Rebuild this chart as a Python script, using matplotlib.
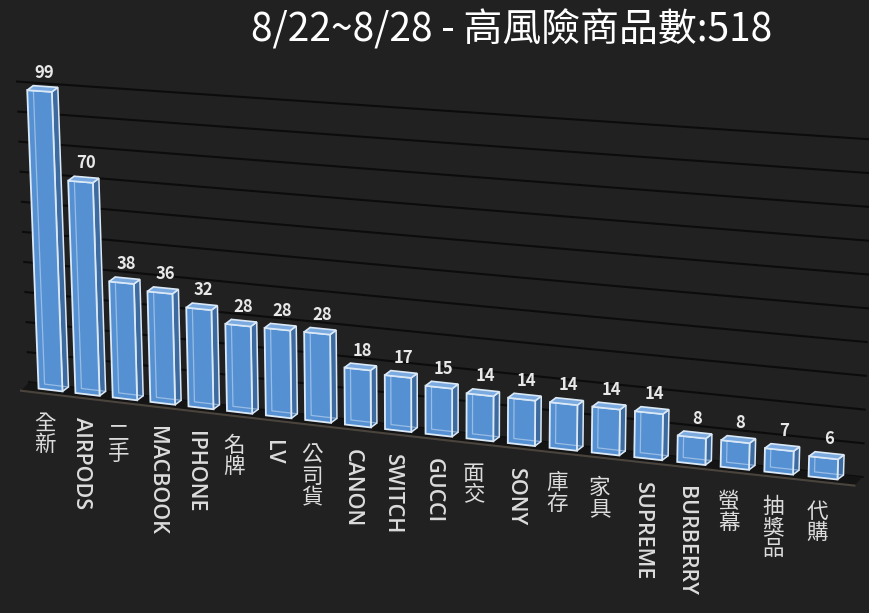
import numpy as np
import matplotlib
matplotlib.use('Agg')
import matplotlib.pyplot as plt
import matplotlib.transforms as mtransforms
from matplotlib.patches import Polygon

plt.rcParams['font.family'] = ['Noto Sans CJK TC', 'DejaVu Sans']

# data
categories = ['全新', 'AIRPODS', '二手', 'MACBOOK', 'IPHONE', '名牌', 'LV', '公司貨',
              'CANON', 'SWITCH', 'GUCCI', '面交', 'SONY', '庫存', '家具', 'SUPREME',
              'BURBERRY', '螢幕', '抽獎品', '代購']
values = [99, 70, 38, 36, 32, 28, 28, 28, 18, 17, 15, 14, 14, 14, 14, 14, 8, 8, 7, 6]
grid_values = list(range(0, 101, 10))
title = '8/22~8/28 - 高風險商品數:518'

W, H = 869, 613
BG = '#212121'
FRONT = '#5590d2'
SIDE = '#3d6ba0'
TOP = '#7aaae0'
EDGE = '#dbe9f7'
DX, DY = 6.0, 4.5   # depth of the boxes, pixels


class Persp(mtransforms.Transform):
    """(category position, value) -> pixels, a rough Excel-style 3D view"""
    input_dims = 2
    output_dims = 2
    is_separable = False
    has_inverse = False

    def transform_non_affine(self, pts):
        pts = np.asarray(pts, dtype=float).reshape(-1, 2)
        u, v = pts[:, 0], pts[:, 1]
        lean = 0.111 * (1 - u / 10.0)
        px = 50.5 + 36.8 * u + 0.203 * u ** 2 - lean * v
        py = 390 + 4.4 * u + 0.012 * u ** 2 - (3.02 + 0.018 * u) * v
        return np.column_stack([px, H - py])


fig = plt.figure(figsize=(W / 100, H / 100), dpi=100, facecolor=BG)
ax = fig.add_axes([0, 0, 1, 1])
ax.set_facecolor(BG)
ax.set_axis_off()

persp = Persp()
to_fig = mtransforms.Affine2D().scale(1.0 / W, 1.0 / H) + fig.transFigure
tr = persp + to_fig
tr_back = persp + mtransforms.Affine2D().translate(DX, DY) + to_fig
pix = lambda pts: persp.transform(np.asarray(pts, dtype=float))

x = np.arange(len(categories))
uu = np.linspace(-0.75, 19.75, 80)

# back wall gridlines
for g in grid_values:
    ax.plot(uu, np.full_like(uu, g), transform=tr_back, color='#0c0c0c', lw=1.5, zorder=1)

# floor
back = pix(np.column_stack([uu, np.zeros_like(uu)])) + [DX, DY]
front = pix(np.column_stack([uu, np.zeros_like(uu)])) + [-2, -4]
floor = np.vstack([back, front[::-1]])
ax.add_patch(Polygon(floor, closed=True, transform=to_fig, facecolor='#141414',
                     edgecolor='none', zorder=1.5))
ax.plot(front[:, 0], front[:, 1], transform=to_fig, color='#4a443d', lw=1.5, zorder=1.6)

# bars: front faces through the perspective transform
bars = ax.bar(x, values, width=0.65, transform=tr, color=FRONT, edgecolor=EDGE,
              linewidth=1.3, zorder=3)

d = np.array([DX, DY])
for r in bars.patches:
    x0, w, h = r.get_x(), r.get_width(), r.get_height()
    fl_b, fr_b, fr_t, fl_t = pix([[x0, 0], [x0 + w, 0], [x0 + w, h], [x0, h]])
    side = [fr_b, fr_b + d, fr_t + d, fr_t]
    top = [fl_t, fr_t, fr_t + d, fl_t + d]
    ax.add_patch(Polygon(side, closed=True, transform=to_fig, facecolor=SIDE,
                         edgecolor=EDGE, lw=1.1, zorder=2.5))
    ax.add_patch(Polygon(top, closed=True, transform=to_fig, facecolor=TOP,
                         edgecolor=EDGE, lw=1.2, zorder=3.5))
    # back edges seen through the glass
    inner = np.array([fl_t + d, fl_b + d, fr_b + d])
    ax.plot(inner[:, 0], inner[:, 1], transform=to_fig, color=EDGE, lw=0.9,
            alpha=0.5, zorder=3.2)

# value labels
lab_tr = persp + mtransforms.Affine2D().translate(DX / 2 + 2, DY + 9) + to_fig
for i, v in enumerate(values):
    ax.text(i, v, str(v), transform=lab_tr, ha='center', va='baseline',
            fontsize=12, fontweight='bold', color='#e8e8e8', zorder=5)

# category labels
cat_tr = persp + mtransforms.Affine2D().translate(-6, -23) + to_fig
for i, name in enumerate(categories):
    if name.isascii():
        ax.text(i, 0, name, transform=cat_tr, ha='center', va='top', rotation=270,
                fontsize=15.5, color='#dcdcdc', zorder=5,
                family=['Open Sans', 'DejaVu Sans'], fontweight='semibold')
    else:
        ax.text(i, 0, '\n'.join(name), transform=cat_tr, ha='center', va='top',
                fontsize=15.5, color='#dcdcdc', linespacing=0.95, zorder=5,
                fontweight='medium')

fig.text(0.589, 0.9315, title, ha='center', va='baseline', fontsize=28,
         color='white', fontweight='medium')

fig.savefig('out.png', dpi=100, facecolor=BG)
